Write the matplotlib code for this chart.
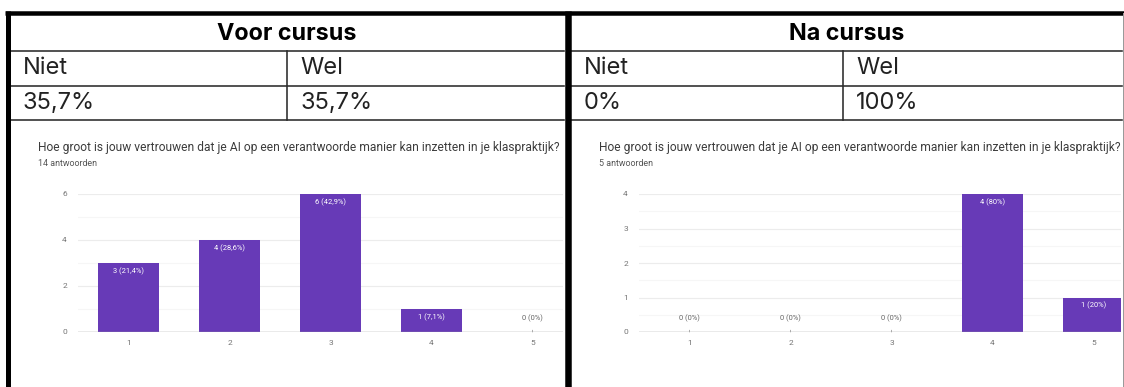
import matplotlib.pyplot as plt
from matplotlib.ticker import MultipleLocator

W, H, DPI = 1124, 387, 100

# -----------------------------
# DATA
# -----------------------------
sections = ["Voor cursus", "Na cursus"]
col_labels = ["Niet", "Wel"]
voor_table = ["35,7%", "35,7%"]
na_table = ["0%", "100%"]

question = ("Hoe groot is jouw vertrouwen dat je AI op een verantwoorde "
            "manier kan inzetten in je klaspraktijk?")
scale = [1, 2, 3, 4, 5]

voor_counts = [3, 4, 6, 1, 0]
voor_labels = ["3 (21,4%)", "4 (28,6%)", "6 (42,9%)", "1 (7,1%)", "0 (0%)"]
voor_n = "14 antwoorden"
voor_ymax, voor_ystep = 6, 2

na_counts = [0, 0, 0, 4, 1]
na_labels = ["0 (0%)", "0 (0%)", "0 (0%)", "4 (80%)", "1 (20%)"]
na_n = "5 antwoorden"
na_ymax, na_ystep = 4, 1

# -----------------------------
# STYLE
# -----------------------------
PURPLE = "#673ab7"
GRID = "#ececec"
GRID_MINOR = "#f6f6f6"
TICK = "#757575"
TABLE_FONT = "Inter"
CHART_FONT = "Roboto"
PT = 72 / DPI  # one pixel in points

fig = plt.figure(figsize=(W / DPI, H / DPI), dpi=DPI)
fig.patch.set_facecolor("white")


def px_axes(x0, y0, x1, y1, z=1):
    ax = fig.add_axes([x0 / W, 1 - y1 / H, (x1 - x0) / W, (y1 - y0) / H])
    ax.set_zorder(z)
    return ax


# background axes in pixel coordinates (for the table)
bg = px_axes(0, 0, W, H, z=0)
bg.set_xlim(0, W)
bg.set_ylim(H, 0)
bg.axis("off")

# section geometry: (left, right, column divider)
geom = [(10, 564, 287), (571, 1122, 843)]
ROW_Y = [13, 51, 86, 120]
tables = [voor_table, na_table]

for (x0, x1, xd), head, vals in zip(geom, sections, tables):
    for y in ROW_Y[1:]:
        bg.plot([x0, x1], [y, y], color="#2b2b2b", lw=1.6 * PT)
    bg.plot([xd, xd], [ROW_Y[1], ROW_Y[3]], color="#2b2b2b", lw=1.6 * PT)
    bg.text((x0 + x1) / 2, (ROW_Y[0] + ROW_Y[1]) / 2 + 2, head, ha="center",
            va="center", fontsize=16.8, fontweight="bold", family=TABLE_FONT)
    for i, (lab, val) in enumerate(zip(col_labels, vals)):
        tx = (x0 if i == 0 else xd) + 13
        bg.text(tx, (ROW_Y[1] + ROW_Y[2]) / 2, lab, ha="left", va="center",
                fontsize=17, family=TABLE_FONT, color="#222")
        bg.text(tx, (ROW_Y[2] + ROW_Y[3]) / 2, val, ha="left", va="center",
                fontsize=17, family=TABLE_FONT, color="#222")

# thick outer border and middle divider
bg.plot([5, W], [13, 13], color="black", lw=4.5 * PT, solid_capstyle="butt")
bg.plot([7.5, 7.5], [11, H], color="black", lw=5 * PT, solid_capstyle="butt")
bg.plot([567.5, 567.5], [11, H], color="black", lw=6.5 * PT, solid_capstyle="butt")
bg.plot([1122.5, 1122.5], [13, H], color="#9a9a9a", lw=1 * PT)


# -----------------------------
# CHARTS
# -----------------------------
def draw_chart(x0, x1, counts, labels, n_text, ymax, ystep):
    # panel used to clip the question text at the section edge
    panel = px_axes(x0, ROW_Y[3] + 1, x1, H, z=2)
    panel.set_xlim(0, x1 - x0)
    panel.set_ylim(H - ROW_Y[3] - 1, 0)
    panel.axis("off")
    panel.text(28, 27, question, fontsize=8.65, family=CHART_FONT,
               color="#3c3c3c", va="center", ha="left", clip_on=True)
    panel.text(28, 43, n_text, fontsize=6.4, family=CHART_FONT,
               color="#555555", va="center", ha="left", clip_on=True)

    left = x0 + 68
    right = min(x1 - 1, 1121)
    ax = px_axes(left, 194, right, 332, z=3)
    step = 101
    ax.set_xlim(0.5, 0.5 + (right - left) / step)
    ax.set_ylim(0, ymax)
    ax.set_facecolor("none")

    ax.bar(scale, counts, width=0.6, color=PURPLE, zorder=3)

    for x, c, lab in zip(scale, counts, labels):
        if c > 0:
            ax.annotate(lab, xy=(x, c), xytext=(0, -8), textcoords="offset pixels",
                        ha="center", va="center", fontsize=5.4, color="white",
                        family=CHART_FONT, zorder=4)
        else:
            ax.annotate(lab, xy=(x, 0), xytext=(0, 14), textcoords="offset pixels",
                        ha="center", va="center", fontsize=5.4, color="#666666",
                        family=CHART_FONT, zorder=4,
                        arrowprops=dict(arrowstyle="-", color="#9e9e9e", lw=0.6,
                                        shrinkA=4, shrinkB=0))

    ax.yaxis.set_major_locator(MultipleLocator(ystep))
    ax.yaxis.set_minor_locator(MultipleLocator(ystep / 2))
    ax.grid(axis="y", which="major", color=GRID, lw=0.8, zorder=0)
    ax.grid(axis="y", which="minor", color=GRID_MINOR, lw=0.8, zorder=0)
    ax.axhline(0, color="#9e9e9e", lw=1.0, zorder=5)

    ax.set_xticks(scale)
    ax.tick_params(axis="both", which="both", length=0, labelsize=6,
                   labelcolor=TICK)
    ax.tick_params(axis="y", pad=8)
    ax.tick_params(axis="x", pad=6)
    for lab in ax.get_xticklabels() + ax.get_yticklabels():
        lab.set_family(CHART_FONT)
    for s in ax.spines.values():
        s.set_visible(False)


draw_chart(10, 564, voor_counts, voor_labels, voor_n, voor_ymax, voor_ystep)
draw_chart(571, 1122, na_counts, na_labels, na_n, na_ymax, na_ystep)

fig.savefig("out.png", dpi=DPI)
